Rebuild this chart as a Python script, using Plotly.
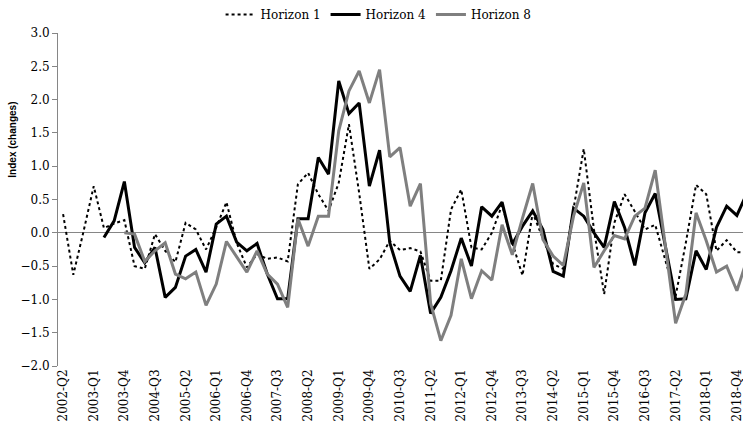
import plotly.graph_objects as go

quarters = [f"{y}-Q{q}" for y in range(2002, 2020) for q in range(1, 5)][1:-3]  # 2002-Q2 .. 2019-Q1

tick_labels = ["2002-Q2", "2003-Q1", "2003-Q4", "2004-Q3", "2005-Q2", "2006-Q1", "2006-Q4",
               "2007-Q3", "2008-Q2", "2009-Q1", "2009-Q4", "2010-Q3", "2011-Q2", "2012-Q1",
               "2012-Q4", "2013-Q3", "2014-Q2", "2015-Q1", "2015-Q4", "2016-Q3", "2017-Q2",
               "2018-Q1", "2018-Q4"]

horizon1 = [0.28, -0.63, 0.02, 0.70, 0.07, 0.14, 0.19, -0.50, -0.54, -0.02,
            -0.27, -0.44, 0.15, 0.05, -0.25, 0.08, 0.46, -0.15, -0.52, -0.32,
            -0.39, -0.37, -0.43, 0.73, 0.90, 0.58, 0.33, 0.75, 1.63, 0.60,
            -0.54, -0.40, -0.12, -0.26, -0.23, -0.28, -0.72, -0.72, 0.35, 0.65,
            -0.22, -0.25, 0.00, 0.42, -0.15, -0.64, 0.30, -0.08, -0.47, -0.54,
            0.35, 1.26, 0.05, -0.92, 0.15, 0.58, 0.32, 0.05, 0.12, -0.40,
            -0.95, -0.15, 0.72, 0.58, -0.27, -0.11, -0.29, -0.30]

horizon4 = [None, None, None, None, -0.07, 0.18, 0.77, -0.22, -0.45, -0.22,
            -0.97, -0.82, -0.35, -0.25, -0.59, 0.13, 0.25, -0.14, -0.27, -0.16,
            -0.62, -0.99, -0.99, 0.21, 0.21, 1.13, 0.88, 2.28, 1.79, 1.95,
            0.70, 1.24, -0.15, -0.65, -0.88, -0.34, -1.21, -0.97, -0.57, -0.08,
            -0.50, 0.39, 0.25, 0.46, -0.17, 0.10, 0.33, 0.05, -0.58, -0.65,
            0.37, 0.25, 0.00, -0.22, 0.47, 0.08, -0.49, 0.30, 0.59, -0.20,
            -1.00, -0.99, -0.27, -0.55, 0.08, 0.40, 0.26, 0.60]

horizon8 = [None, None, None, None, None, None, 0.00, -0.02, -0.43, -0.27,
            -0.15, -0.62, -0.69, -0.59, -1.09, -0.77, -0.13, -0.37, -0.59, -0.27,
            -0.62, -0.77, -1.12, 0.21, -0.20, 0.25, 0.25, 1.53, 2.13, 2.43,
            1.95, 2.45, 1.14, 1.28, 0.40, 0.74, -1.06, -1.62, -1.24, -0.39,
            -0.99, -0.57, -0.71, 0.12, -0.33, 0.22, 0.74, -0.10, -0.35, -0.49,
            0.25, 0.75, -0.52, -0.27, -0.04, -0.09, 0.25, 0.37, 0.94, -0.20,
            -1.36, -0.92, 0.30, -0.12, -0.59, -0.50, -0.87, -0.40]

serif = "DejaVu Serif"

fig = go.Figure()
fig.add_trace(go.Scatter(x=quarters, y=horizon1, name="Horizon 1", mode="lines",
                         line=dict(color="black", width=2, dash="dot")))
fig.add_trace(go.Scatter(x=quarters, y=horizon4, name="Horizon 4", mode="lines",
                         line=dict(color="black", width=3)))
fig.add_trace(go.Scatter(x=quarters, y=horizon8, name="Horizon 8", mode="lines",
                         line=dict(color="#7f7f7f", width=3)))

fig.add_annotation(text="<b>Index (changes)</b>", textangle=-90, xref="paper", yref="paper",
                   x=-0.067, y=0.68, xanchor="center", yanchor="middle", showarrow=False,
                   font=dict(family="Liberation Sans", size=10, color="black"))

fig.update_layout(
    width=743, height=430,
    margin=dict(l=58, r=0, t=32, b=64),
    plot_bgcolor="white", paper_bgcolor="white",
    font=dict(family=serif, size=12, color="black"),
    legend=dict(orientation="h", x=0.468, xanchor="center", y=1.054, yanchor="middle",
                font=dict(family=serif, size=12), itemwidth=30, tracegroupgap=0,
                bgcolor="rgba(0,0,0,0)"),
    xaxis=dict(type="category", categoryorder="array", categoryarray=quarters,
               range=[-0.5, 66.6], tickmode="array", tickvals=tick_labels,
               ticktext=tick_labels, tickangle=-90, showgrid=False, showline=False,
               zeroline=False, ticks="", tickfont=dict(family=serif, size=12)),
    yaxis=dict(range=[-2, 3], dtick=0.5, tickformat=".1f", showgrid=False,
               showline=True, linecolor="#868686", linewidth=1, ticks="outside",
               ticklen=5, tickcolor="#868686", zeroline=True, zerolinecolor="#868686",
               zerolinewidth=1, tickfont=dict(family=serif, size=12)),
    showlegend=True,
)

fig.write_html("out.html", config={"displayModeBar": False},
               post_script="document.body.style.margin='0';")
